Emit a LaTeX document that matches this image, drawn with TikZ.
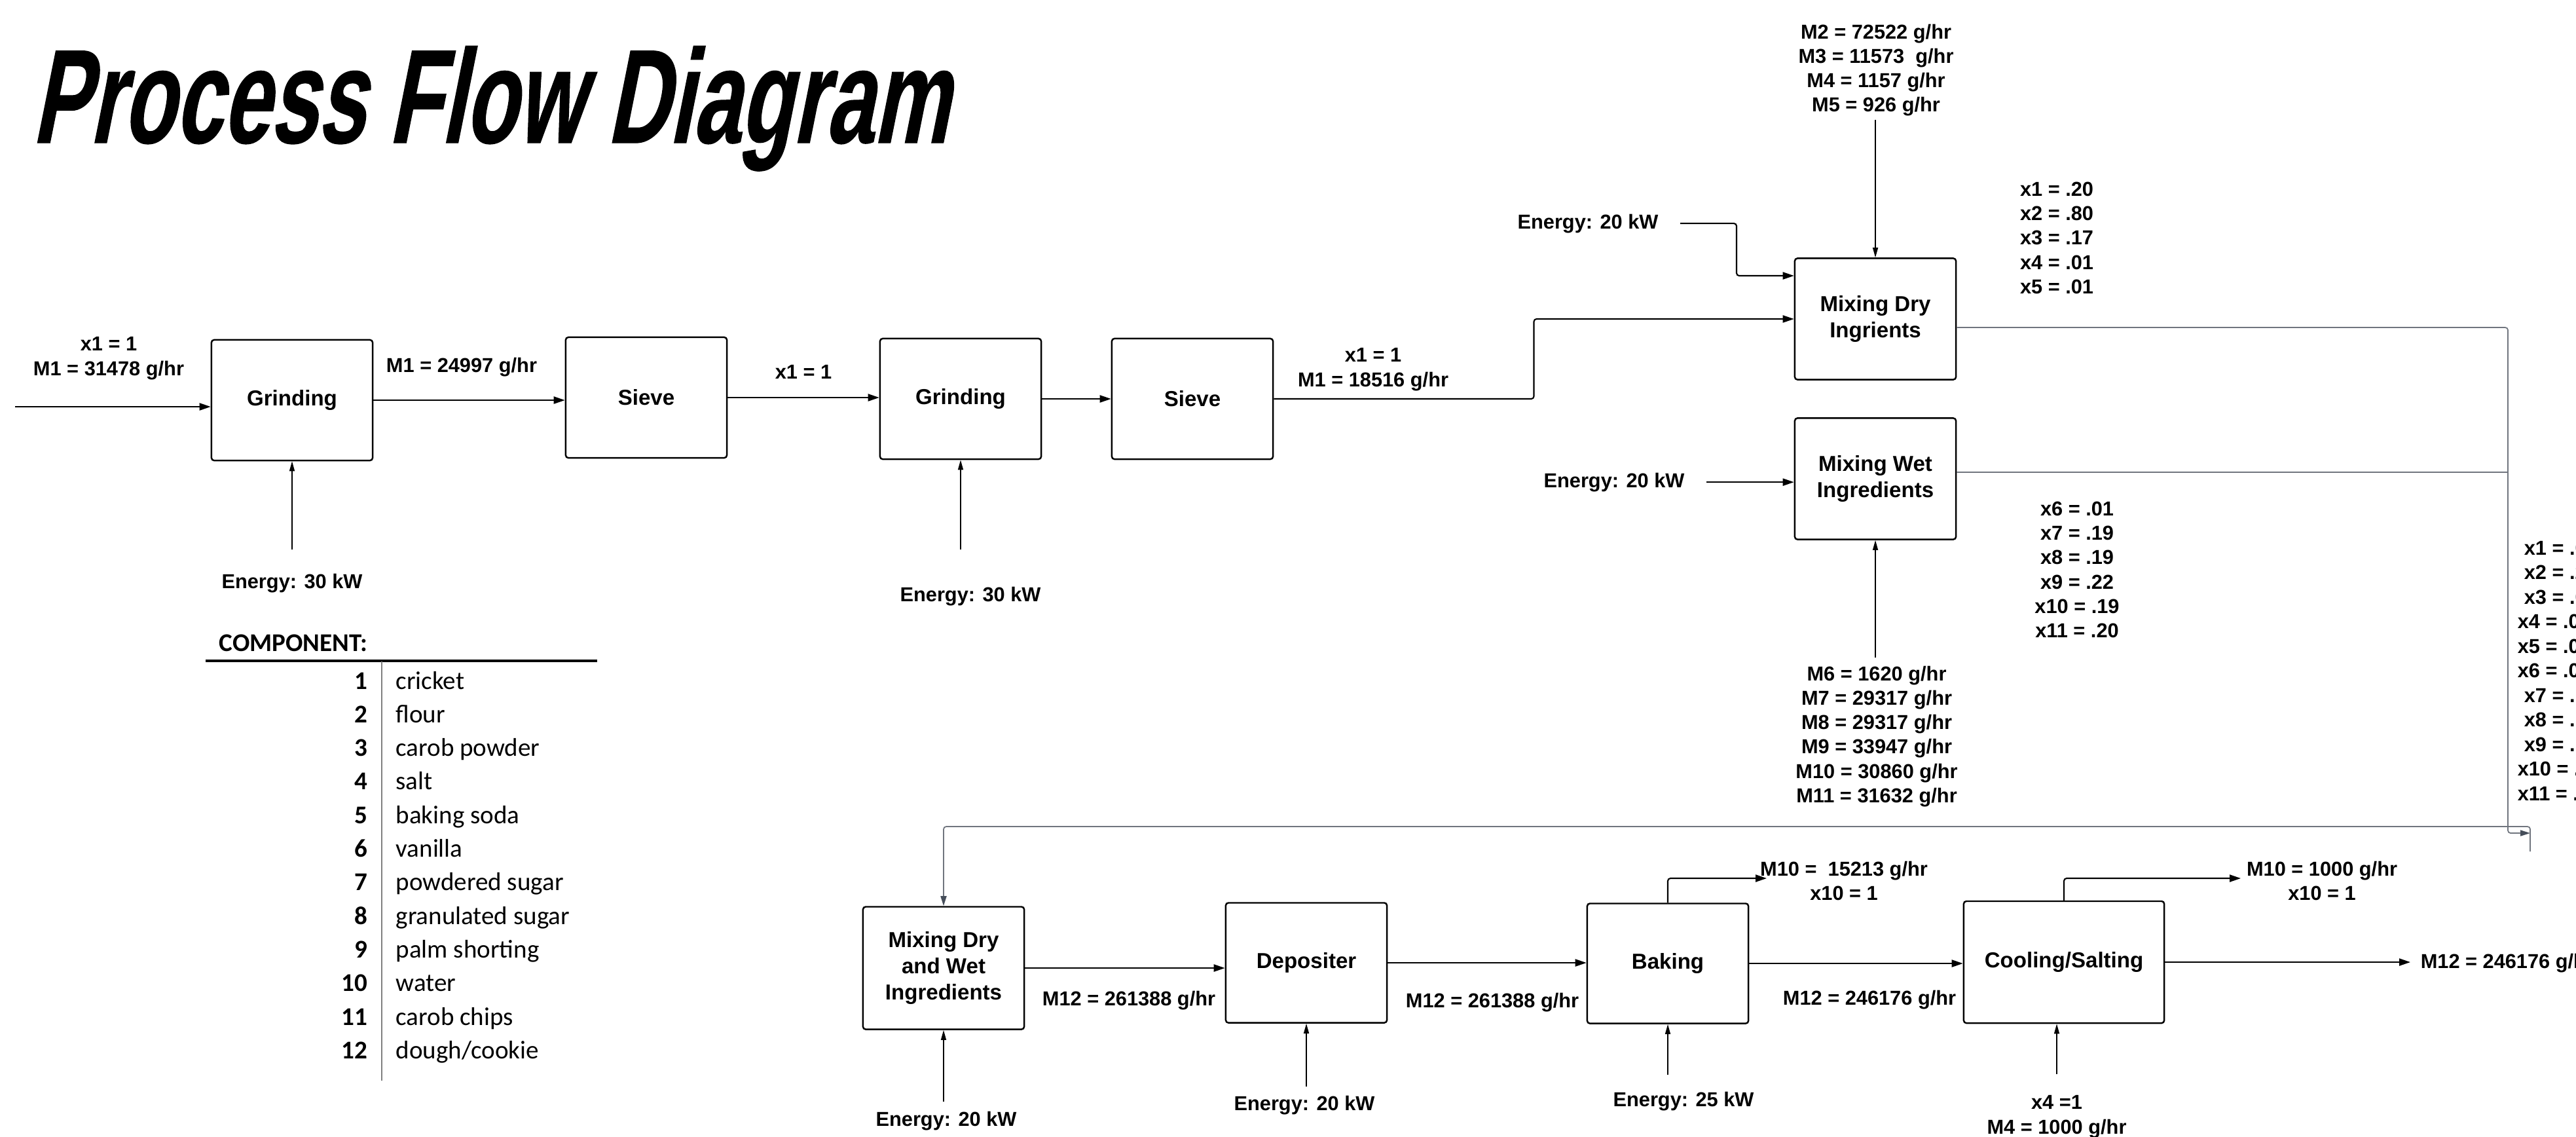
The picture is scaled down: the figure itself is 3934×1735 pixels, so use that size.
\documentclass[tikz,border=0pt]{standalone}
\usepackage{fontspec}
\setmainfont{Liberation Sans}
\newfontfamily\titlefont{Liberation Sans}[FakeSlant=0.2,FakeStretch=0.64,FakeBold=0.6]
\newfontfamily\tablefont{Carlito}
\usetikzlibrary{arrows.meta,calc}
\definecolor{mergegray}{RGB}{112,117,126}
\definecolor{tipgray}{RGB}{70,78,90}

\begin{document}
\begin{tikzpicture}[
  x=0.01cm,y=-0.01cm,
  unit/.style={draw,line width=0.7pt,rounded corners=0.04cm,minimum width=2.46cm,minimum height=1.84cm,align=center,inner sep=1pt,font=\fontsize{9.4}{11.4}\selectfont\bfseries},
  lbl/.style={inner sep=0pt,align=center,font=\fontsize{8.75}{10.6}\selectfont\bfseries},
  flow/.style={-{Triangle[length=0.17cm,width=0.11cm]},line width=0.6pt,rounded corners=0.04cm},
  feed/.style={-{Triangle[length=0.15cm,width=0.08cm]},line width=0.4pt},
  mergeline/.style={line width=0.5pt,mergegray,rounded corners=0.04cm},
  mergetip/.style={-{Triangle[length=0.15cm,width=0.09cm,color=tipgray]}},
  comp/.style={inner sep=0pt,font=\tablefont\fontsize{11.1}{13}\selectfont}
]
\useasboundingbox (0,0) rectangle (3934,1735);
\node[anchor=base west,inner sep=0pt,font=\titlefont\bfseries\fontsize{58}{60}\selectfont] (title) at (48,218) {Process Flow Diagram};

% units
\node[unit] (g1) at (446,611) {Grinding};
\node[unit] (s1) at (987,607) {Sieve};
\node[unit] (g2) at (1467,609) {Grinding};
\node[unit] (s2) at (1821,609) {Sieve};
\node[unit,minimum height=1.85cm] (mdry) at (2864,487) {Mixing Dry\\Ingrients};
\node[unit,minimum height=1.85cm] (mwet) at (2864,731) {Mixing Wet\\Ingredients};
\node[unit,minimum height=1.87cm] (mall) at (1441,1478) {Mixing Dry\\and Wet\\Ingredients};
\node[unit,minimum height=1.83cm] (dep) at (1995,1470) {Depositer};
\node[unit,minimum height=1.83cm] (bak) at (2547,1471) {Baking};
\node[unit,minimum width=3.06cm,minimum height=1.86cm] (cool) at (3152,1469) {Cooling/Salting};

% top row
\coordinate (src) at (23,621);
\draw[flow] (src) -- (src -| g1.west);
\node[lbl,anchor=north] (lin) at (166,514) {x1 = 1\\M1 = 31478 g/hr};
\draw[flow] (g1.east) -- (g1.east -| s1.west);
\node[lbl,anchor=base] (l1) at (705,568) {M1 = 24997 g/hr};
\draw[flow] (s1.east) -- (s1.east -| g2.west);
\node[lbl,anchor=base] (l2) at (1227,578) {x1 = 1};
\draw[flow] (g2.east) -- (g2.east -| s2.west);
\draw[flow] (s2.east) -| ($(s2.east)!.5!(mdry.west)$) |- (mdry.west);
\node[lbl,anchor=north] (l3) at (2097,531) {x1 = 1\\M1 = 18516 g/hr};
\node[lbl,anchor=base] (eg1) at (446,898) {Energy: 30 kW};
\draw[feed,shorten <=0.36cm] (eg1.north -| g1.south) -- (g1.south);
\node[lbl,anchor=base] (eg2) at (1482,918) {Energy: 30 kW};
\draw[feed,shorten <=0.56cm] (eg2.north -| g2.south) -- (g2.south);

% mixing
\node[lbl,anchor=base] (emd) at (2425,349) {Energy: 20 kW};
\coordinate (emdk) at (2652,421);
\draw[flow,shorten <=0.33cm] (emd.east) -| (emdk) -- (emdk -| mdry.west);
\node[lbl,anchor=north] (lmdin) at (2865,36) {M2 = 72522 g/hr\\M3 = 11573\ \ g/hr\\M4 = 1157 g/hr\\M5 = 926 g/hr};
\draw[feed,shorten <=0.045cm] (lmdin.south -| mdry.north) -- (mdry.north);
\node[lbl,anchor=north] (lmdx) at (3141,277) {x1 = .20\\x2 = .80\\x3 = .17\\x4 = .01\\x5 = .01};
\node[lbl,anchor=base] (emw) at (2465,744) {Energy: 20 kW};
\draw[flow,shorten <=0.33cm] (emw.east) -- (emw.east -| mwet.west);
\node[lbl,anchor=north] (lmwx) at (3172,765) {x6 = .01\\x7 = .19\\x8 = .19\\x9 = .22\\x10 = .19\\x11 = .20};
\node[lbl,anchor=north] (lmwin) at (2866,1016) {M6 = 1620 g/hr\\M7 = 29317 g/hr\\M8 = 29317 g/hr\\M9 = 33947 g/hr\\M10 = 30860 g/hr\\M11 = 31632 g/hr};
\draw[feed,shorten <=0.12cm] (lmwin.north -| mwet.south) -- (mwet.south);

% merge and return
\coordinate (mj) at (3830,1272);
\coordinate (rs) at (3864,1300);
\coordinate (rt) at (3864,1262);
\coordinate (mw) at ([yshift=0.1cm]mwet.east);
\draw[mergeline,mergetip] ([yshift=-0.13cm]mdry.east) -| (mj) -- (mj -| rs);
\draw[mergeline] (mw) -- (mw -| mj);
\draw[mergeline,mergetip] (rs) -- (rt) -| (mall.north);
\foreach \k/\v/\xl [count=\i] in {1/.0/3854,2/.2/3854,3/.0/3854,4/.0/3844,5/.0/3844,6/.0/3844,7/./3854,8/./3854,9/./3854,10/./3844,11/./3844}
  \node[lbl,anchor=base west] (mx\k) at (\xl,{847+37.5*(\i-1)}) {x\k\ = \v};

% bottom row
\draw[flow] (mall.east) -- (mall.east -| dep.west);
\node[lbl,anchor=base] (l4) at (1724,1535) {M12 = 261388 g/hr};
\draw[flow] (dep.east) -- (dep.east -| bak.west);
\node[lbl,anchor=base] (l5) at (2279,1538) {M12 = 261388 g/hr};
\draw[flow] (bak.east) -- (bak.east -| cool.west);
\node[lbl,anchor=base] (l6) at (2855,1534) {M12 = 246176 g/hr};
\node[lbl,anchor=base west] (lout) at (3696,1478) {M12 = 246176 g/hr};
\draw[flow,shorten >=0.15cm] (cool.east) -- (cool.east -| lout.west);
\coordinate (v1) at (2698,1341);
\draw[flow] (bak.north) |- (v1);
\node[lbl,anchor=north] (lv1) at (2816,1314) {M10 =\ \ 15213 g/hr\\x10 = 1};
\coordinate (v2) at (3422,1341);
\draw[flow] (cool.north) |- (v2);
\node[lbl,anchor=north] (lv2) at (3546,1314) {M10 = 1000 g/hr\\x10 = 1};
\node[lbl,anchor=base] (emall) at (1445,1719) {Energy: 20 kW};
\draw[feed,shorten <=0.14cm] (emall.north -| mall.south) -- (mall.south);
\node[lbl,anchor=base] (edep) at (1992,1695) {Energy: 20 kW};
\draw[feed,shorten <=0.13cm] (edep.north -| dep.south) -- (dep.south);
\node[lbl,anchor=base] (ebak) at (2571,1689) {Energy: 25 kW};
\draw[feed,shorten <=0.25cm] (ebak.north -| bak.south) -- (bak.south);
\node[lbl,anchor=north] (lsalt) at (3141,1672) {x4 =1\\M4 = 1000 g/hr};
\draw[feed,shorten <=0.32cm] (lsalt.north) -- (lsalt.north |- cool.south);

% component table
\node[comp,anchor=base west,font=\tablefont\bfseries\fontsize{11.1}{13}\selectfont] (comphead) at (334,994) {COMPONENT:};
\draw[line width=1pt] (314,1009) -- (912,1009);
\draw[gray,line width=0.35pt] (583,1010) -- (583,1650);
\foreach \n/\c in {1/cricket,2/flour,3/carob powder,4/salt,5/baking soda,6/vanilla,7/powdered sugar,8/granulated sugar,9/palm shorting,10/water,11/carob chips,12/{dough/cookie}}{
  \node[comp,anchor=base east,font=\tablefont\bfseries\fontsize{11.1}{13}\selectfont] (num\n) at (562,{1052+51.3*(\n-1)}) {\n};
  \node[comp,anchor=base west] (comp\n) at (604,{1052+51.3*(\n-1)}) {\c};
}
\end{tikzpicture}
\end{document}
